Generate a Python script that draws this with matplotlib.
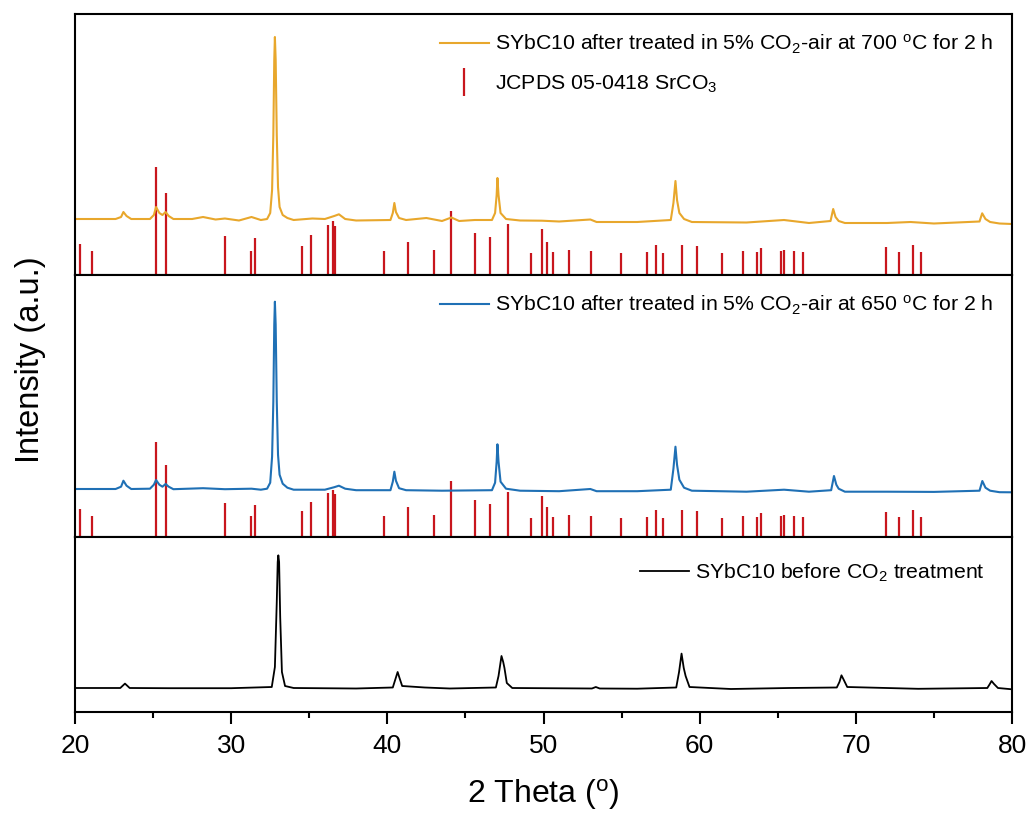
import numpy as np
import matplotlib
matplotlib.use("Agg")
import matplotlib.pyplot as plt
from matplotlib.lines import Line2D
from matplotlib.ticker import MultipleLocator

plt.rcParams['font.family'] = ['Liberation Sans', 'DejaVu Sans']
plt.rcParams['mathtext.fontset'] = 'custom'
plt.rcParams['mathtext.rm'] = 'Liberation Sans'
plt.rcParams['mathtext.it'] = 'Liberation Sans:italic'
plt.rcParams['mathtext.bf'] = 'Liberation Sans:bold'

# ---- data (intensity in a.u.) ----
# SYbC10 after 5% CO2-air at 700 C
x700 = [20.0, 22.6, 22.95, 23.1, 23.3, 23.6, 24.8, 25.05, 25.19, 25.4, 25.6, 25.8, 26.0, 26.3,
        27.5, 28.2, 29.0, 29.6, 30.5, 31.3, 31.9, 32.3, 32.5, 32.62, 32.7, 32.76, 32.8,
        32.85, 32.92, 33.0, 33.1, 33.3, 33.6, 34.0, 35.2, 36.0, 36.6, 36.9, 37.3, 38.0,
        40.2, 40.35, 40.45, 40.55, 40.75, 41.2, 42.5, 43.5, 44.1, 44.6, 45.6, 46.7, 46.9,
        47.0, 47.05, 47.12, 47.25, 47.6, 48.5, 49.9, 51.0, 53.0, 53.4, 56.0, 58.15, 58.32,
        58.45, 58.55, 58.7, 59.0, 59.5, 63.0, 65.4, 67.0, 68.38, 68.55, 68.7, 68.9, 69.3,
        72.0, 73.5, 75.0, 77.92, 78.09, 78.3, 78.6, 79.2, 80.0]
y700 = [56, 56, 58, 63, 59, 56, 56, 60, 68, 62, 60, 63, 59, 56,
        56, 58, 55.5, 56.5, 54.5, 58, 55, 56, 62, 85, 140, 215, 238,
        215, 140, 88, 68, 60, 57, 55, 56.5, 56, 59, 60.7, 56, 54.5,
        55, 62, 72, 63, 57, 55, 57, 54, 57.5, 54, 55, 55, 62,
        80, 97, 80, 62, 56, 54.5, 54.3, 53.5, 55.5, 53, 53, 55, 72,
        94, 75, 62, 56, 53, 52.5, 55, 52, 54, 66, 58, 54, 52,
        52, 53, 51.5, 53.5, 61.7, 56, 53, 51.5, 51]

# SYbC10 after 5% CO2-air at 650 C
x650 = [20.0, 22.6, 22.95, 23.1, 23.3, 23.6, 24.8, 25.05, 25.19, 25.4, 25.6, 25.8, 26.0, 26.3,
        28.2, 29.6, 31.3, 31.9, 32.3, 32.5, 32.62, 32.7, 32.76, 32.8, 32.85, 32.92, 33.0,
        33.1, 33.3, 33.6, 34.0, 36.0, 36.6, 36.9, 37.3, 38.0, 40.2, 40.35, 40.45, 40.55,
        40.75, 41.2, 43.5, 46.7, 46.9, 47.0, 47.05, 47.12, 47.25, 47.6, 48.5, 51.0, 53.0,
        53.4, 56.0, 58.15, 58.32, 58.45, 58.55, 58.7, 59.0, 59.5, 63.0, 65.4, 67.0, 68.42,
        68.6, 68.75, 68.9, 69.3, 72.0, 75.0, 77.92, 78.1, 78.3, 78.6, 79.2, 80.0]
y650 = [47.7, 47.7, 50, 56, 51, 47.7, 48, 52, 56.7, 52, 50, 52.7, 50, 47.5,
        48.5, 47.5, 48, 47, 48, 54, 80, 135, 212, 235, 212, 135, 82,
        62, 53, 49, 47, 47, 49.5, 51, 48, 46.5, 46.5, 55, 65, 56,
        48.5, 46.5, 46, 46.5, 54, 75, 92.4, 75, 55, 48, 46, 45.5, 47.7,
        45.5, 45.5, 47, 68, 90, 72, 57, 49, 46, 45, 47, 45, 46.5,
        60.7, 52, 48, 45, 45, 44.8, 46, 55.7, 49, 46, 44.5, 44.4]

# SYbC10 before CO2 treatment
x_as = [20.0, 22.9, 23.2, 23.5, 26.0, 30.0, 32.6, 32.8, 32.92, 32.98, 33.02, 33.07,
        33.14, 33.25, 33.45, 34.0, 38.0, 40.35, 40.52, 40.66, 40.78, 40.95, 42.4, 44.0,
        46.95, 47.12, 47.31, 47.42, 47.5, 47.65, 48.0, 53.1, 53.35, 53.6, 56.0, 58.5,
        58.68, 58.84, 58.98, 59.1, 59.35, 62.0, 65.7, 68.78, 68.95, 69.08, 69.2, 69.45,
        74.0, 78.42, 78.58, 78.69, 78.85, 79.1, 80.0]
y_as = [24, 24, 28.4, 24, 23.8, 23.8, 25, 45, 110, 150, 156.7, 150,
        95, 40, 26, 24, 23.5, 24.5, 33, 40, 34, 26, 24.5, 23.5,
        24.5, 36, 56, 50, 44, 29, 24, 23.5, 25, 23.5, 23.3, 24.5,
        40, 58.4, 44, 36, 25, 23, 24, 24.5, 30, 36.7, 33, 25,
        23.2, 24, 28, 31, 28, 24, 22.7]

# JCPDS 05-0418 SrCO3 reference lines (relative intensity, %)
ref_pos = [20.32, 21.11, 25.19, 25.80, 29.62, 31.27, 31.52, 34.53, 35.11, 36.18, 36.50,
           36.62, 39.78, 41.30, 42.96, 44.07, 45.63, 46.55, 47.70, 49.17, 49.90, 50.24,
           50.58, 51.65, 53.01, 54.98, 56.62, 57.20, 57.63, 58.86, 59.80, 61.42, 62.79,
           63.66, 63.90, 65.18, 65.41, 66.07, 66.59, 71.96, 72.77, 73.67, 74.18]
ref_int = [29, 22, 100, 76, 36, 22, 34, 27, 37, 46, 50,
           45, 22, 31, 23, 59, 39, 35, 47, 20, 43, 31,
           21, 23, 22, 20, 21, 28, 20, 28, 27, 20, 22,
           21, 25, 22, 23, 22, 21, 26, 21, 28, 21]

lab700 = r'SYbC10 after treated in 5% CO$_2$-air at 700 $^{\mathrm{o}}$C for 2 h'
lab650 = r'SYbC10 after treated in 5% CO$_2$-air at 650 $^{\mathrm{o}}$C for 2 h'
lab_as = r'SYbC10 before CO$_2$ treatment'
lab_ref = r'JCPDS 05-0418 SrCO$_3$'

c700 = '#E8A72C'
c650 = '#1F70B5'
c_as = 'black'
c_ref = '#C8161D'

W, H = 1031, 816
fig = plt.figure(figsize=(W / 100, H / 100), dpi=100)

def panel(top, bottom):
    ax = fig.add_axes([75 / W, 1 - bottom / H, (1012 - 75) / W, (bottom - top) / H])
    ax.set_xlim(20, 80)
    ax.set_yticks([])
    for s in ax.spines.values():
        s.set_linewidth(1.5)
    return ax

ax1 = panel(14, 275)
ax2 = panel(275, 536.7)
ax3 = panel(536.7, 712)

ax1.set_ylim(0, 261)
ax2.set_ylim(0, 261.7)
ax3.set_ylim(0, 175.3)

ax1.vlines(ref_pos, 0, np.array(ref_int) * 1.08, color=c_ref, lw=1.6)
ax1.plot(x700, y700, color=c700, lw=1.5)
ax2.vlines(ref_pos, 0, np.array(ref_int) * 0.944, color=c_ref, lw=1.6)
ax2.plot(x650, y650, color=c650, lw=1.5)
ax3.plot(x_as, y_as, color=c_as, lw=1.3)

for ax in (ax1, ax2):
    ax.set_xticks([])

ax3.xaxis.set_major_locator(MultipleLocator(10))
ax3.xaxis.set_minor_locator(MultipleLocator(5))
ax3.tick_params(axis='x', which='major', direction='out', length=8.5, width=1.5,
                labelsize=19, pad=7)
ax3.tick_params(axis='x', which='minor', direction='out', length=4.5, width=1.5)
ax3.set_xlabel(r'2 Theta ($^{\mathrm{o}}$)', fontsize=23, labelpad=14)

fig.text(31 / W, 1 - 360 / H, 'Intensity (a.u.)', rotation=90, fontsize=23.5,
         ha='center', va='center')

leg_kw = dict(frameon=False, fontsize=15.3, handlelength=2.3, handletextpad=0.28,
              loc='upper right', borderaxespad=0.5)
h1 = [Line2D([], [], color=c700, lw=1.5),
      Line2D([], [], color=c_ref, lw=0, marker='|', markersize=20, markeredgewidth=1.6)]
ax1.legend(h1, [lab700, lab_ref], labelspacing=0.8, **leg_kw)
ax2.legend([Line2D([], [], color=c650, lw=1.5)], [lab650], **leg_kw)
ax3.legend([Line2D([], [], color=c_as, lw=1.3)], [lab_as],
           bbox_to_anchor=(1 - 8 / 937, 1 - 6 / 175), **leg_kw)

fig.savefig('out.png', dpi=100)
